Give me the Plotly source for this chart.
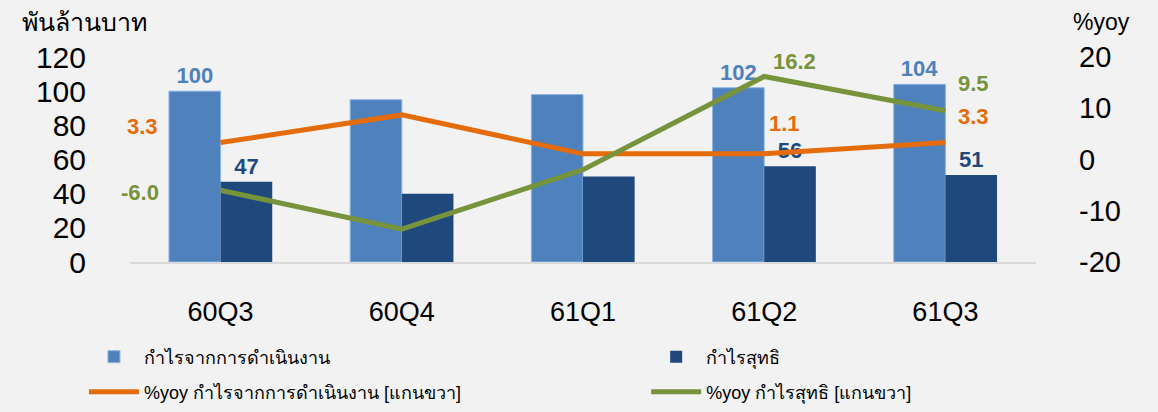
import plotly.graph_objects as go

quarters = ["60Q3", "60Q4", "61Q1", "61Q2", "61Q3"]

# พันล้านบาท (left axis)
op_profit = [100, 95, 98, 102, 104]
net_profit = [47, 40, 50, 56, 51]
op_profit_text = ["100", "", "", "102", "104"]
net_profit_text = ["47", "", "", "56", "51"]

# %yoy (right axis)
op_yoy = [3.3, 8.7, 1.1, 1.1, 3.3]
net_yoy = [-6.0, -13.6, -2.0, 16.2, 9.5]

left_ticks = [0, 20, 40, 60, 80, 100, 120]
right_ticks = [-20, -10, 0, 10, 20]
right_tick_text = ["-20", "-10", "0", "10", "20"]

C_LIGHT = "#4F81BD"
C_DARK = "#1F497D"
C_ORANGE = "#E46C0A"
C_GREEN = "#77933C"
BG = "#F2F2F2"
FONT = "Liberation Sans, Arial, sans-serif"

fig = go.Figure()

fig.add_trace(go.Bar(
    x=quarters, y=op_profit, name="กำไรจากการดำเนินงาน", legend="legend",
    marker=dict(color=C_LIGHT, line=dict(color="#8DB3E2", width=1)),
    text=op_profit_text, textposition="outside", constraintext="none",
    textfont=dict(size=22, color=C_LIGHT, family=FONT, weight="bold"),
    cliponaxis=False,
))
fig.add_trace(go.Bar(
    x=quarters, y=net_profit, name="กำไรสุทธิ", legend="legend2",
    marker=dict(color=C_DARK, line=dict(color="#1F497D", width=0)),
    text=net_profit_text, textposition="outside", constraintext="none",
    textfont=dict(size=22, color=C_DARK, family=FONT, weight="bold"),
    cliponaxis=False,
))
fig.add_trace(go.Scatter(
    x=quarters, y=op_yoy, yaxis="y2", mode="lines", legend="legend3",
    name="%yoy กำไรจากการดำเนินงาน [แกนขวา]",
    line=dict(color=C_ORANGE, width=5), cliponaxis=False,
))
fig.add_trace(go.Scatter(
    x=quarters, y=net_yoy, yaxis="y2", mode="lines", legend="legend4",
    name="%yoy กำไรสุทธิ [แกนขวา]",
    line=dict(color=C_GREEN, width=5), cliponaxis=False,
))

# yoy value labels (index, series, color, xshift, yshift)
yoy_labels = [
    (0, op_yoy, C_ORANGE, -78, 16),
    (0, net_yoy, C_GREEN, -81, -2),
    (3, op_yoy, C_ORANGE, 20, 30),
    (3, net_yoy, C_GREEN, 30, 15),
    (4, net_yoy, C_GREEN, 28, 27),
    (4, op_yoy, C_ORANGE, 28, 26),
]
for i, series, color, dx, dy in yoy_labels:
    fig.add_annotation(
        x=quarters[i], y=series[i], xref="x", yref="y2",
        text=f"{series[i]:.1f}", showarrow=False,
        xshift=dx, yshift=dy,
        font=dict(size=22, color=color, family=FONT, weight="bold"),
    )

fig.add_annotation(
    x=-0.121, y=1.171, xref="paper", yref="paper", xanchor="left", yanchor="middle",
    text="พันล้านบาท", showarrow=False, font=dict(size=25, color="#000000"),
)
fig.add_annotation(
    x=1.039, y=1.171, xref="paper", yref="paper", xanchor="left", yanchor="middle",
    text="%yoy", showarrow=False, font=dict(size=23, color="#000000", family=FONT),
)

legend_style = dict(
    orientation="h", xanchor="left", yanchor="middle",
    xref="container", yref="container", itemwidth=50,
    font=dict(size=18), bgcolor="rgba(0,0,0,0)",
)

fig.update_layout(
    width=1158, height=412,
    paper_bgcolor=BG, plot_bgcolor=BG,
    barmode="group", bargap=0.43, bargroupgap=0,
    margin=dict(l=130, r=122, t=57, b=150, autoexpand=False),
    font=dict(family=FONT, color="#000000"),
    xaxis=dict(
        range=[-0.5, len(quarters) - 0.5],
        showgrid=False, showline=True, linecolor="#D9D9D9", linewidth=2,
        ticks="", tickfont=dict(size=27), ticklabelstandoff=25, automargin=False,
    ),
    yaxis=dict(
        range=[0, 120], tickvals=left_ticks, showgrid=False, zeroline=False,
        tickfont=dict(size=30), ticklabelstandoff=43, automargin=False,
    ),
    yaxis2=dict(
        range=[-20, 20], tickvals=right_ticks, ticktext=right_tick_text,
        overlaying="y", side="right", showgrid=False, zeroline=False,
        tickfont=dict(size=29), ticklabelstandoff=42, automargin=False,
    ),
    showlegend=True,
    legend=dict(x=0.0725, y=0.1335, **legend_style),
    legend2=dict(x=0.558, y=0.1335, **legend_style),
    legend3=dict(x=0.0725, y=0.0485, **legend_style),
    legend4=dict(x=0.558, y=0.0485, **legend_style),
)

fig.write_html(
    "out.html",
    config={"displayModeBar": False},
    post_script="document.body.style.margin='0';",
)
